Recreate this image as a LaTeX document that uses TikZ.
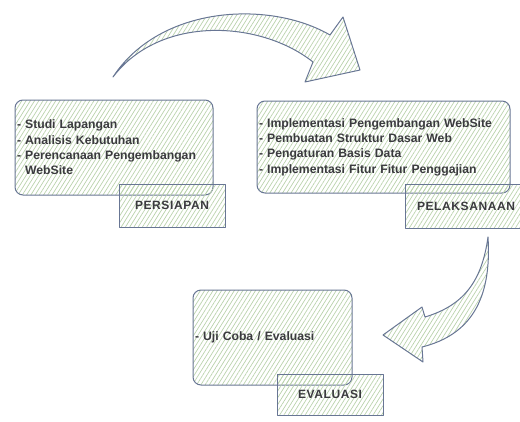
\documentclass[tikz,border=0pt]{standalone}
\usepackage{fontspec}
\setmainfont{Liberation Sans}
\usetikzlibrary{patterns.meta}
\definecolor{sketch}{RGB}{104,118,148}
\definecolor{hatch}{RGB}{186,210,172}
\definecolor{ink}{RGB}{58,58,62}

\begin{document}
\begin{tikzpicture}
[x=1pt,y=-1pt,line join=round,
hatched/.style = {draw=sketch, line width=1pt, pattern={Lines[angle=58,distance=3.6pt,line width=0.7pt]}, pattern color=hatch},
phase/.style = {hatched, rounded corners=8pt, align=left, inner sep=2pt, text=ink, font=\bfseries\fontsize{12.2}{15.3}\selectfont},
tag/.style = {hatched, text=ink, font=\bfseries\fontsize{12}{13}\selectfont\addfontfeature{LetterSpace=5}},]

\useasboundingbox (0,0) rectangle (520,421);

\node (persiapan) at (114,147.5)[phase, minimum height=95pt, text width=194pt]
  {- Studi Lapangan\\- Analisis Kebutuhan\\- Perencanaan Pengembangan\\\phantom{- }WebSite};
\node (pelaksanaan) at (383.5,147)[phase, minimum height=92pt, text width=249pt]
  {- Implementasi Pengembangan WebSite\\- Pembuatan Struktur Dasar Web\\- Pengaturan Basis Data\\- Implementasi Fitur Fitur Penggajian};
\node (evaluasi) at (272.5,337.5)[phase, minimum height=95pt, text width=155pt]
  {- Uji Coba / Evaluasi};

\node (tpersiapan) at (172,205.5)[tag, minimum width=106pt, minimum height=43pt]{PERSIAPAN};
\node (tpelaksanaan) at (466,206)[tag, minimum width=122pt, minimum height=44pt]{PELAKSANAAN};
\node (tevaluasi) at (330,394.5)[tag, minimum width=106pt, minimum height=41pt]{EVALUASI};

% arrow persiapan -> pelaksanaan
\draw [hatched] (113,77) .. controls (160,5) and (270,0) .. (330,35)
  -- (343,17) -- (360,70) -- (305,82) -- (313,62)
  .. controls (260,20) and (160,15) .. cycle;
% arrow pelaksanaan -> evaluasi
\draw [hatched] (488,237) .. controls (492,300) and (470,335) .. (422,347)
  -- (423,362) -- (383,335) -- (422,307) -- (425,317)
  .. controls (465,305) and (482,280) .. cycle;

\end{tikzpicture}
\end{document}
